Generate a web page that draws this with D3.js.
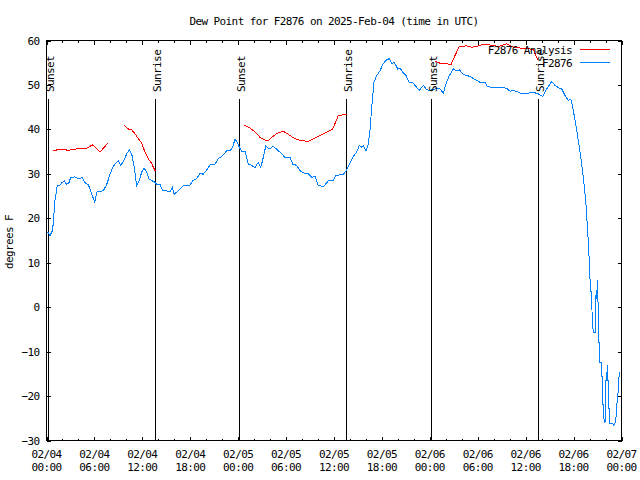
<!DOCTYPE html>
<html><head><meta charset="utf-8">
<script src="https://cdn.jsdelivr.net/npm/d3@7"></script>
<style>
body{margin:0;background:#fff}
svg text{font-family:"DejaVu Sans Mono","Liberation Mono",monospace;font-size:11px;letter-spacing:-0.6px;fill:#000}
</style>
</head><body>
<svg id="chart" width="640" height="480"></svg>
<script>
// ---------- data ----------
const chartTitle = "Dew Point for F2876 on 2025-Feb-04 (time in UTC)";
const yAxisLabel = "degrees F";
const seriesNames = ["F2876 Analysis", "F2876"];
const seriesColors = ["#ff0000", "#0080ff"];

const xTickHours = [0, 6, 12, 18, 24, 30, 36, 42, 48, 54, 60, 66, 72];
const xTickDates = ["02/04","02/04","02/04","02/04","02/05","02/05","02/05","02/05","02/06","02/06","02/06","02/06","02/07"];
const xTickTimes = ["00:00","06:00","12:00","18:00","00:00","06:00","12:00","18:00","00:00","06:00","12:00","18:00","00:00"];
const xMinorHours = d3.range(0, 73, 2);
const yTicks = [-30, -20, -10, 0, 10, 20, 30, 40, 50, 60];

const eventHours  = [0.25, 13.65, 24.17, 37.57, 48.21, 61.61];
const eventLabels = ["Sunset", "Sunrise", "Sunset", "Sunrise", "Sunset", "Sunrise"];

// observed dew point (hours since 02/04 00:00 UTC)
const obsHours = [0.15,0.44,0.77,1.06,1.35,1.69,1.98,2.23,2.53,2.82,3.03,3.57,4.07,4.48,4.82,5.23,5.66,6.04,6.29,6.70,7.11,7.54,7.95,8.29,8.58,8.99,9.29,9.70,10.04,10.37,10.67,10.99,11.29,11.62,11.92,12.21,12.55,12.84,13.17,13.59,13.80,14.21,14.55,15.05,15.46,15.75,15.97,16.30,16.72,17.13,17.97,18.31,18.81,19.22,19.63,20.14,20.56,21.10,21.51,22.06,22.56,22.98,23.32,23.60,23.89,24.14,24.44,24.86,25.27,25.70,26.11,26.52,26.82,27.15,27.45,27.90,28.40,29.03,29.45,29.86,30.49,30.83,31.33,31.74,32.16,32.78,33.21,33.62,34.03,34.66,35.29,35.91,36.25,37.17,37.59,38.01,38.42,38.84,39.17,39.47,39.67,40.01,40.30,40.51,40.72,41.01,41.35,41.76,42.17,42.60,42.93,43.23,43.51,43.76,43.98,44.27,44.60,45.02,45.43,45.93,46.36,46.68,47.18,47.61,48.02,48.65,49.27,49.69,50.03,50.44,50.94,51.36,51.69,52.12,52.62,53.12,53.44,53.87,54.28,54.91,55.20,55.75,56.37,57.20,57.70,58.04,58.45,59.08,59.50,60.13,60.83,61.58,62.13,62.63,63.26,63.67,64.09,64.51,64.93,65.34,65.64,65.89,66.30,66.59,66.89,67.22,67.52,67.82,67.86,67.98,68.05,68.17,68.19,68.30,68.31,68.38,68.40,68.47,68.72,68.74,68.81,68.90,68.97,69.06,69.14,69.18,69.26,69.30,69.51,69.55,69.64,69.68,69.77,69.78,69.93,70.02,70.06,70.14,70.22,70.31,70.35,70.52,70.56,70.90,71.00,71.20,71.33,71.42,71.58,71.66,71.78];
const obsValues = [16.9,16.1,17.3,24,27.4,27.5,28.1,28.4,27.6,28,29.2,29.3,28.8,29.2,28,27.6,25.5,23.6,25.9,26,26.2,27.6,29.9,31.4,32.2,33,31.9,33,34.5,35.4,34.5,31.4,27.4,28.5,30.4,31.3,30.4,28.8,28.5,28.1,27.6,27.6,26.2,26.2,25.9,27,25.4,25.9,26.6,27.4,27.4,28.5,28.9,30.2,29.9,31.1,32.2,32.2,33.4,34.1,35.2,35.2,36,37.8,37.1,36,35.1,35.1,32.2,31.9,31.4,32.6,31.4,33.7,36.2,35.6,36.2,35.2,34.5,33.7,33.7,32.2,31.9,30.7,30.2,30,29.2,29.4,27.4,27.1,28.4,28.6,29.6,29.9,30.9,32.5,33.9,34.9,36.4,36,36.4,35.1,36.8,39.8,45,50.6,52.1,53.2,54.8,55.7,55.9,54.8,55.1,54.4,53.6,53.8,52.9,52.1,50.6,50.4,49.4,48.8,49.9,48.9,48.8,49.1,49.1,48.1,50.3,52.1,53.6,53.2,53.4,52.5,52.1,51.9,51.4,51,50.6,50.6,49.7,49.4,49.4,49.5,49.1,48.6,48.8,48.4,48,48,48.4,48,47.4,49.1,50.8,49.9,49.4,49.1,47.6,46.5,46.8,45,40.9,37.5,33.8,29.2,24,15.5,11.6,11.4,6.4,6.2,1.9,1.65,-1.5,-1.65,-4.35,-5.6,-5.6,-2.6,3,1.9,6,1.1,1.1,-7.9,-7.9,-12.5,-12.5,-15.6,-15.6,-21.8,-21.8,-25,-26.1,-22.7,-16.5,-16.5,-13.1,-16.5,-22.7,-22.7,-26.1,-26.1,-26.5,-26.1,-24.4,-21.8,-19.1,-16.1,-14.5];

// analysis dew point (null = gap)
const anaHours = [0.77,1.69,2.71,3.74,4.82,5.78,6.70,7.74,8.7,9.70,10.24,10.67,11.08,11.50,11.92,12.33,12.75,13.17,13.59,13.71,19,24.77,25.48,26.11,26.74,27.36,27.77,28.20,28.83,29.65,30.28,30.90,31.74,32.78,33.41,34.25,35.09,35.84,36.54,37.17,37.67,43,48.65,49.27,49.90,50.65,51.15,51.69,52.62,53.24,53.87,54.49,55.53,56.57,57.62,58.45,59.29,60.13,60.96,61.56];
const anaValues = [35.1,35.6,35.3,35.6,35.6,36.5,34.9,37.0,null,40.9,40.1,39.9,39,37.9,36.9,34.9,33.4,32.3,30.7,30.6,null,41,40.3,39.4,38.2,37.6,37.5,38.2,39.1,39.6,38.9,38.1,37.5,37.3,37.9,38.6,39.4,40.1,43.1,43.3,43.4,null,55.3,54.9,54.8,54.6,56.6,58.65,58.8,58.5,58.7,59,59,58.65,59.25,58.5,58.3,58.3,57.9,55.5];

// ---------- layout ----------
const PL = 46.5, PR = 621.5, PT = 40.5, PB = 440.5;
const svg = d3.select("#chart");
const xs = d3.scaleLinear().domain([0, 72]).range([PL, PR]);
const ys = d3.scaleLinear().domain([-30, 60]).range([PB, PT]);

// title
svg.append("text").attr("x", 334).attr("y", 25).attr("text-anchor", "middle").text(chartTitle);

// y label
svg.append("text").attr("transform", "translate(13,242) rotate(-90)")
  .attr("text-anchor", "middle").text(yAxisLabel);

// axes
const gAx = svg.append("g").attr("shape-rendering", "crispEdges");
const axLeft = gAx.append("g").attr("transform", `translate(${PL},0)`)
  .call(d3.axisLeft(ys).tickValues(yTicks).tickSize(-4).tickPadding(7).tickFormat(d3.format("d")));
gAx.append("g").attr("transform", `translate(${PR},0)`)
  .call(d3.axisRight(ys).tickValues(yTicks).tickSize(-4).tickFormat(""));
gAx.append("g").attr("transform", `translate(0,${PB})`)
  .call(d3.axisBottom(xs).tickValues(xTickHours).tickSize(-4).tickFormat(""));
gAx.append("g").attr("transform", `translate(0,${PB})`)
  .call(d3.axisBottom(xs).tickValues(xMinorHours).tickSize(-2).tickFormat(""));
gAx.append("g").attr("transform", `translate(0,${PT})`)
  .call(d3.axisTop(xs).tickValues(xTickHours).tickSize(-4).tickFormat(""));
gAx.append("g").attr("transform", `translate(0,${PT})`)
  .call(d3.axisTop(xs).tickValues(xMinorHours).tickSize(-2).tickFormat(""));
gAx.selectAll(".domain").remove();
gAx.selectAll(".tick line").attr("stroke", "#000");
gAx.selectAll("g").attr("font-family", null).attr("font-size", null);
axLeft.selectAll("text").attr("fill", "#000");

// x tick labels (two lines)
const xl = svg.append("g");
xTickHours.forEach((h, i) => {
  xl.append("text").attr("x", xs(h)).attr("y", 458).attr("text-anchor", "middle").text(xTickDates[i]);
  xl.append("text").attr("x", xs(h)).attr("y", 471).attr("text-anchor", "middle").text(xTickTimes[i]);
});

// frame
svg.append("rect").attr("x", PL).attr("y", PT).attr("width", PR - PL).attr("height", PB - PT)
  .attr("fill", "none").attr("stroke", "#000").attr("shape-rendering", "crispEdges");

// sun event lines
const ev = svg.append("g");
eventHours.forEach((h) => {
  ev.append("line").attr("x1", xs(h)).attr("x2", xs(h)).attr("y1", 99).attr("y2", PB)
    .attr("stroke", "#000").attr("shape-rendering", "crispEdges");
});

// data lines
const lineGen = d3.line().defined(d => d[1] !== null).x(d => xs(d[0])).y(d => ys(d[1]));
const anaData = anaHours.map((h, i) => [h, anaValues[i]]);
const obsData = obsHours.map((h, i) => [h, obsValues[i]]);
svg.append("path").datum(anaData).attr("d", lineGen).attr("fill", "none")
  .attr("stroke", seriesColors[0]).attr("stroke-width", 1).attr("shape-rendering", "crispEdges");
svg.append("path").datum(obsData).attr("d", lineGen).attr("fill", "none")
  .attr("stroke", seriesColors[1]).attr("stroke-width", 1).attr("shape-rendering", "crispEdges");

// event labels
eventHours.forEach((h, i) => {
  svg.append("text").attr("transform", `translate(${xs(h) + 5.5},92) rotate(-90)`)
    .attr("text-anchor", "start").text(eventLabels[i]);
});

// legend
const lg = svg.append("g");
seriesNames.forEach((name, i) => {
  const yy = 49.5 + i * 12.5;
  lg.append("text").attr("x", 572).attr("y", yy + 4.5).attr("text-anchor", "end").text(name);
  lg.append("line").attr("x1", 580).attr("x2", 610).attr("y1", yy).attr("y2", yy)
    .attr("stroke", seriesColors[i]).attr("shape-rendering", "crispEdges");
});
</script>
</body></html>
